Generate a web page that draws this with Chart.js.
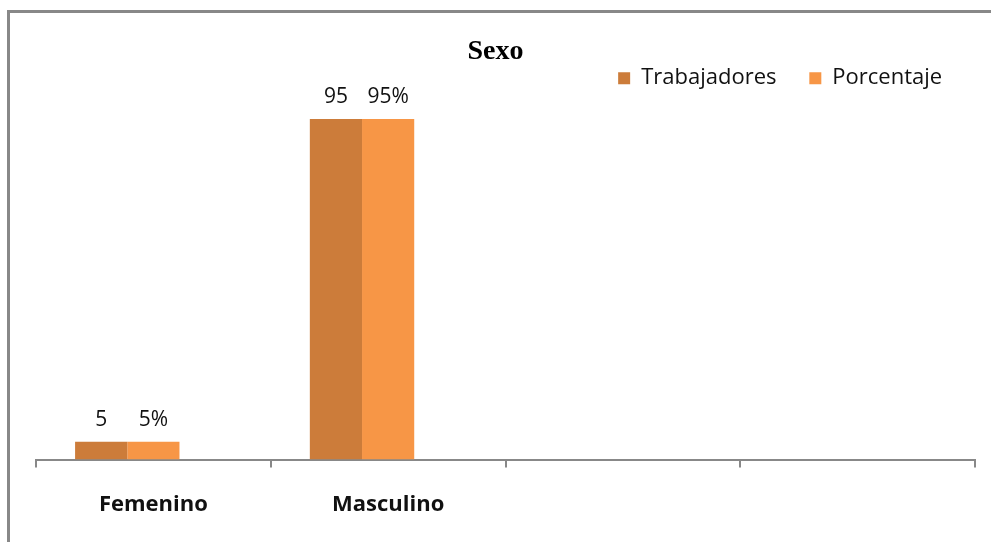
<!DOCTYPE html>
<html>
<head>
<meta charset="utf-8">
<script src="https://cdn.jsdelivr.net/npm/chart.js@4.4.1/dist/chart.umd.min.js"></script>
<style>
    html, body { margin: 0; padding: 0; background: #fff; overflow: hidden; }
    #marco {
        position: absolute; left: 7px; top: 10px; width: 1000px; height: 600px;
        border-top: 3px solid #888; border-left: 3px solid #888;
    }
    #lienzo { position: absolute; left: 0; top: 0; }
</style>
</head>
<body>
<div id="marco"></div>
<canvas id="lienzo" width="991" height="542"></canvas>
<script>
// datos
const categorias = ['Femenino', 'Masculino', '', ''];
const trabajadores = [5, 95, null, null];
const porcentaje = [5, 95, null, null];
const serieVacia = [null, null, null, null]; // la tercera serie que deja el hueco a la derecha

// etiquetas encima de cada barra
const etiquetasBarras = {
    id: 'etiquetasBarras',
    afterDatasetsDraw(chart) {
        const ctx = chart.ctx;
        ctx.save();
        ctx.font = '21px "Open Sans", sans-serif';
        ctx.fillStyle = '#111';
        ctx.textAlign = 'center';
        ctx.textBaseline = 'bottom';
        chart.data.datasets.forEach((ds, i) => {
            if (ds.sufijo === undefined) return;
            chart.getDatasetMeta(i).data.forEach((bar, j) => {
                const v = ds.data[j];
                if (v == null) return;
                ctx.fillText(v + ds.sufijo, bar.x, bar.y - 11);
            });
        });
        ctx.restore();
    }
};

const ctx = document.getElementById('lienzo').getContext('2d');
new Chart(ctx, {
    type: 'bar',
    data: {
        labels: categorias,
        datasets: [
            { label: 'Trabajadores', data: trabajadores, backgroundColor: '#CC7C3A', sufijo: '' },
            { label: 'Porcentaje', data: porcentaje, backgroundColor: '#F79646', sufijo: '%' },
            { label: 'oculta', data: serieVacia, backgroundColor: '#fff' }
        ]
    },
    options: {
        responsive: false,
        animation: false,
        layout: { padding: { left: 16, right: 16, top: 0, bottom: 0 } },
        datasets: { bar: { barPercentage: 1, categoryPercentage: 0.667 } },
        scales: {
            x: {
                grid: { drawOnChartArea: false, drawTicks: true, tickLength: 8, color: '#888', lineWidth: 2 },
                border: { color: '#888', width: 2 },
                ticks: { color: '#111', font: { family: '"Open Sans", sans-serif', size: 22, weight: 'bold' }, padding: 24 }
            },
            // eje y invisible, solo ocupa el margen izquierdo
            y: {
                min: 0, max: 100.5,
                grid: { display: false },
                border: { display: false },
                ticks: { display: false },
                afterFit: (s) => { s.width = 20; }
            }
        },
        plugins: {
            title: {
                display: true, text: 'Sexo', color: '#000',
                font: { family: '"Liberation Serif", serif', size: 28, weight: 'bold', lineHeight: 0.4 },
                padding: { top: 46, bottom: 0 }
            },
            legend: {
                position: 'top', align: 'end',
                labels: {
                    boxWidth: 12, boxHeight: 12, color: '#111', padding: 10,
                    font: { family: '"Open Sans", sans-serif', size: 22 },
                    // espacio extra detrás de cada texto, como en la leyenda original
                    generateLabels: (chart) => Chart.defaults.plugins.legend.labels.generateLabels(chart)
                        .filter((item) => item.text !== 'oculta')
                        .map((item) => ({ ...item, text: item.text + '    ' }))
                }
            },
            tooltip: { enabled: false }
        }
    },
    plugins: [etiquetasBarras]
});
</script>
</body>
</html>
